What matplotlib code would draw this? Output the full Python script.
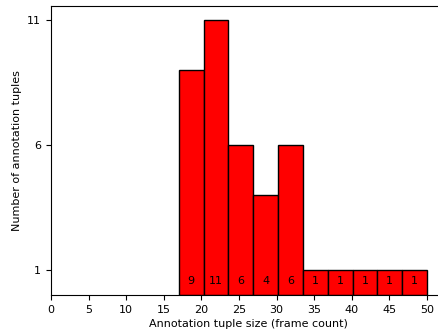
import numpy as np
import matplotlib
matplotlib.use("Agg")
import matplotlib.pyplot as plt

# histogram data
bin_edges = np.linspace(17, 50, 11)
counts = [9, 11, 6, 4, 6, 1, 1, 1, 1, 1]
y_ticks = [1, 6, 11]

fig = plt.figure(figsize=(4.39, 3.36), dpi=100)
# axes run a little past the right edge, as in the cropped original
ax = fig.add_axes([51 / 439, 41 / 336, 395 / 439, 289 / 336])

centers = (bin_edges[:-1] + bin_edges[1:]) / 2
ax.hist(centers, bins=bin_edges, weights=counts,
        color="red", edgecolor="black", linewidth=1.0)

for c, n in zip(centers, counts):
    ax.text(c, 0.55, str(n), ha="center", va="center", fontsize=8)

ax.set_xlim(0, 395 / 7.52)
ax.set_ylim(0, 11.55)
ax.set_xticks(np.arange(0, 51, 5))
ax.set_yticks(y_ticks)
ax.set_xlabel("Annotation tuple size (frame count)", fontsize=8, labelpad=3)
ax.set_ylabel("Number of annotation tuples", fontsize=8)
ax.tick_params(labelsize=8)

fig.savefig("out.png", dpi=100)
